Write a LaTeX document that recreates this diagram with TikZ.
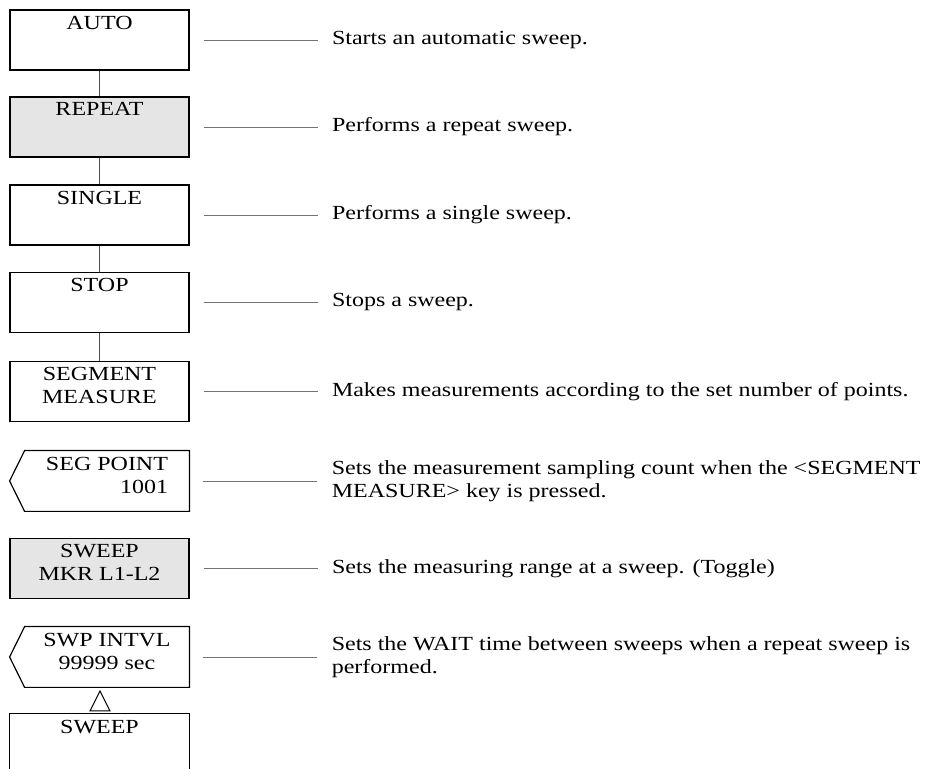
\documentclass[tikz,border=0pt]{standalone}
\usepackage{fontspec}
\setmainfont{Liberation Serif}[FakeStretch=1.2]
\usetikzlibrary{positioning}

\begin{document}
\begin{tikzpicture}[x=0.5pt,y=-0.5pt,
    font=\fontsize{10}{11.5}\selectfont,
    key/.style={draw,line width=0.6pt,minimum width=89.5pt,minimum height=30pt,inner sep=0pt},
    softkey/.style={minimum width=82pt,minimum height=30pt,inner sep=0pt},
    lit/.style={fill=black!10},
    keytext/.style={anchor=north,align=center,inner sep=3pt},
    desc/.style={right=71pt of #1,inner sep=0pt,align=left},
    wire/.style={black!70,line width=0.5pt},
    link/.style={black!55,line width=0.4pt,shorten <=7pt,shorten >=7pt}]
  \useasboundingbox (0,0) rectangle (933,769);
  % Sweep keys
  \node[key] (auto) at (99.5,40) [label={[keytext]north:AUTO}] {};
  \node[key,lit] (repeat) at (99.5,127) [label={[keytext]north:REPEAT}] {};
  \node[key] (single) at (99.5,215) [label={[keytext]north:SINGLE}] {};
  \node[key] (stop) at (99.5,302.5) [label={[keytext]north:STOP}] {};
  \node[key] (segment) at (99.5,391.5) [label={[keytext]north:SEGMENT\\MEASURE}] {};
  \node[softkey] (segpoint) at (107,481) [label={[keytext,align=right]north:SEG POINT\\1001}] {};
  \draw[line width=0.6pt] (segpoint.north east) -- (segpoint.north west)
    -- ([xshift=-7.5pt]segpoint.west) -- (segpoint.south west)
    -- (segpoint.south east) -- cycle;
  \node[key,lit] (sweepmkr) at (99.5,568.5) [label={[keytext]north:SWEEP\\MKR L1-L2}] {};
  \node[softkey] (swpintvl) at (107,657) [label={[keytext]north:SWP INTVL\\99999 sec}] {};
  \draw[line width=0.6pt] (swpintvl.north east) -- (swpintvl.north west)
    -- ([xshift=-7.5pt]swpintvl.west) -- (swpintvl.south west)
    -- (swpintvl.south east) -- cycle;
  % Return mark and parent key
  \coordinate (tip) at (100,691);
  \draw[line width=0.5pt] (tip) -- ++(10,20) -- ++(-20,0) -- cycle;
  \node[minimum width=89.5pt,minimum height=27.5pt,inner sep=0pt] (sweep) at (99.5,741.5)
    [label={[keytext]north:SWEEP}] {};
  \draw[line width=0.6pt] (sweep.south west) -- (sweep.north west)
    -- (sweep.north east) -- (sweep.south east);
  % Key chain
  \draw[wire] (auto) -- (repeat);
  \draw[wire] (repeat) -- (single);
  \draw[wire] (single) -- (stop);
  \draw[wire] (stop) -- (segment);
  % Descriptions
  \node[desc=auto] (auto-d) {Starts an automatic sweep.};
  \node[desc=repeat] (repeat-d) {Performs a repeat sweep.};
  \node[desc=single] (single-d) {Performs a single sweep.};
  \node[desc=stop] (stop-d) {Stops a sweep.};
  \node[desc=segment] (segment-d) {Makes measurements according to the set number of points.};
  \node[desc=segpoint] (segpoint-d) {Sets the measurement sampling count when the <SEGMENT\\MEASURE> key is pressed.};
  \node[desc=sweepmkr] (sweepmkr-d) {Sets the measuring range at a sweep. (Toggle)};
  \node[desc=swpintvl] (swpintvl-d) {Sets the WAIT time between sweeps when a repeat sweep is\\performed.};
  \foreach \k in {auto,repeat,single,stop,segment,segpoint,sweepmkr,swpintvl}
    \draw[link] (\k) -- (\k-d);
\end{tikzpicture}
\end{document}
